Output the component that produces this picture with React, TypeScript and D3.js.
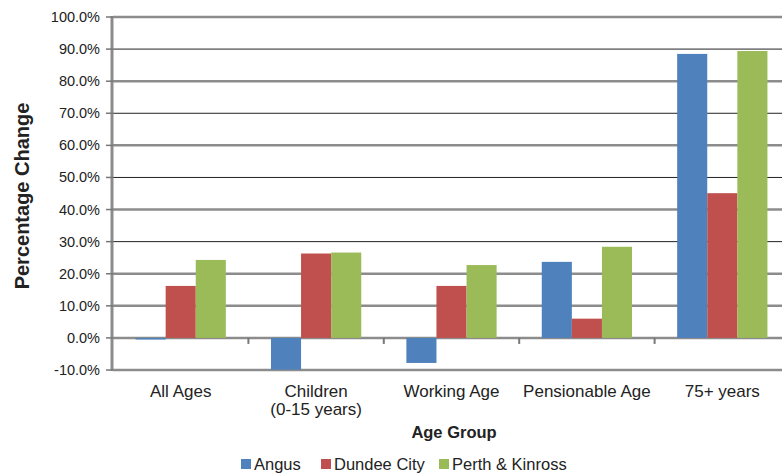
import React, { useEffect, useRef } from "react";
import * as d3 from "d3";

const categories = ["All Ages", "Children|(0-15 years)", "Working Age", "Pensionable Age", "75+ years"];
const seriesNames = ["Angus", "Dundee City", "Perth & Kinross"];
const angus = [-0.5, -9.9, -7.8, 23.7, 88.5];
const dundee = [16.2, 26.3, 16.2, 6.0, 45.1];
const perth = [24.3, 26.6, 22.7, 28.4, 89.4];
const yTicks = [-10, 0, 10, 20, 30, 40, 50, 60, 70, 80, 90, 100];
const colors = ["#4F81BD", "#C0504D", "#9BBB59"];

const W = 782;
const H = 474;

export default function App() {
  const ref = useRef<SVGSVGElement>(null);

  useEffect(() => {
    const svg = d3.select(ref.current);
    svg.selectAll("*").remove();
    const font = "Arial, 'Liberation Sans', sans-serif";

    const left = 113, right = 790, top = 17, bottom = 370;
    const x = d3.scaleBand().domain(categories).range([left, right]).paddingInner(0).paddingOuter(0);
    const x1 = d3.scaleBand().domain(seriesNames).range([0, x.bandwidth()]).paddingOuter(0.75).paddingInner(0);
    const y = d3.scaleLinear().domain([-10, 100]).range([bottom, top]);

    // gridlines
    svg.append("g")
      .selectAll("line")
      .data(yTicks)
      .join("line")
      .attr("x1", left)
      .attr("x2", W + 10)
      .attr("y1", (d) => y(d))
      .attr("y2", (d) => y(d))
      .attr("stroke", (d) => (d % 20 === 0 || d <= 10 ? "#8c8c8c" : "#222"))
      .attr("stroke-width", (d) => (d % 20 === 0 || d <= 10 ? 2.5 : 1));

    // bars
    const data = [angus, dundee, perth];
    const g = svg.append("g");
    categories.forEach((c, i) => {
      seriesNames.forEach((s, j) => {
        const v = data[j][i];
        g.append("rect")
          .attr("x", (x(c) as number) + (x1(s) as number))
          .attr("y", y(Math.max(0, v)))
          .attr("width", x1.bandwidth())
          .attr("height", Math.abs(y(v) - y(0)))
          .attr("fill", colors[j]);
      });
    });

    // category ticks on zero line
    svg.append("g")
      .selectAll("line")
      .data(categories.slice(1))
      .join("line")
      .attr("x1", (d) => x(d) as number)
      .attr("x2", (d) => x(d) as number)
      .attr("y1", y(0))
      .attr("y2", y(0) + 6)
      .attr("stroke", "#777")
      .attr("stroke-width", 2);

    // y axis line
    svg.append("line")
      .attr("x1", left - 1)
      .attr("x2", left - 1)
      .attr("y1", top - 1)
      .attr("y2", bottom + 1)
      .attr("stroke", "#8c8c8c")
      .attr("stroke-width", 3);

    // y ticks
    svg.append("g")
      .selectAll("line")
      .data(yTicks)
      .join("line")
      .attr("x1", left - 7)
      .attr("x2", left)
      .attr("y1", (d) => y(d))
      .attr("y2", (d) => y(d))
      .attr("stroke", "#777")
      .attr("stroke-width", 1.5);

    svg.append("g")
      .selectAll("text")
      .data(yTicks)
      .join("text")
      .attr("x", 100)
      .attr("y", (d) => y(d) + 5)
      .attr("text-anchor", "end")
      .attr("font-family", font)
      .attr("font-size", 14.5)
      .attr("fill", "#222")
      .text((d) => d.toFixed(1) + "%");

    // x labels
    const xl = svg.append("g");
    categories.forEach((c) => {
      const cx = (x(c) as number) + x.bandwidth() / 2;
      c.split("|").forEach((line, k) => {
        xl.append("text")
          .attr("x", cx)
          .attr("y", 397 + k * 18)
          .attr("text-anchor", "middle")
          .attr("font-family", font)
          .attr("font-size", 17)
          .attr("fill", "#222")
          .text(line);
      });
    });

    svg.append("text")
      .attr("x", 454)
      .attr("y", 438)
      .attr("text-anchor", "middle")
      .attr("font-family", font)
      .attr("font-size", 16.5)
      .attr("font-weight", "bold")
      .attr("fill", "#222")
      .text("Age Group");

    svg.append("text")
      .attr("transform", `translate(29, 196) rotate(-90)`)
      .attr("text-anchor", "middle")
      .attr("font-family", font)
      .attr("font-size", 20)
      .attr("font-weight", "bold")
      .attr("fill", "#222")
      .text("Percentage Change");

    // legend
    const legendX = [241, 321, 439];
    const lg = svg.append("g");
    seriesNames.forEach((s, j) => {
      lg.append("rect")
        .attr("x", legendX[j])
        .attr("y", 459)
        .attr("width", 10)
        .attr("height", 10)
        .attr("fill", colors[j]);
      lg.append("text")
        .attr("x", legendX[j] + 13)
        .attr("y", 470)
        .attr("font-family", font)
        .attr("font-size", 16.5)
        .attr("fill", "#222")
        .text(s);
    });
  }, []);

  return (
    <svg
      ref={ref}
      width={W}
      height={H}
      style={{ position: "absolute", left: 0, top: 0, background: "#fff" }}
    />
  );
}
